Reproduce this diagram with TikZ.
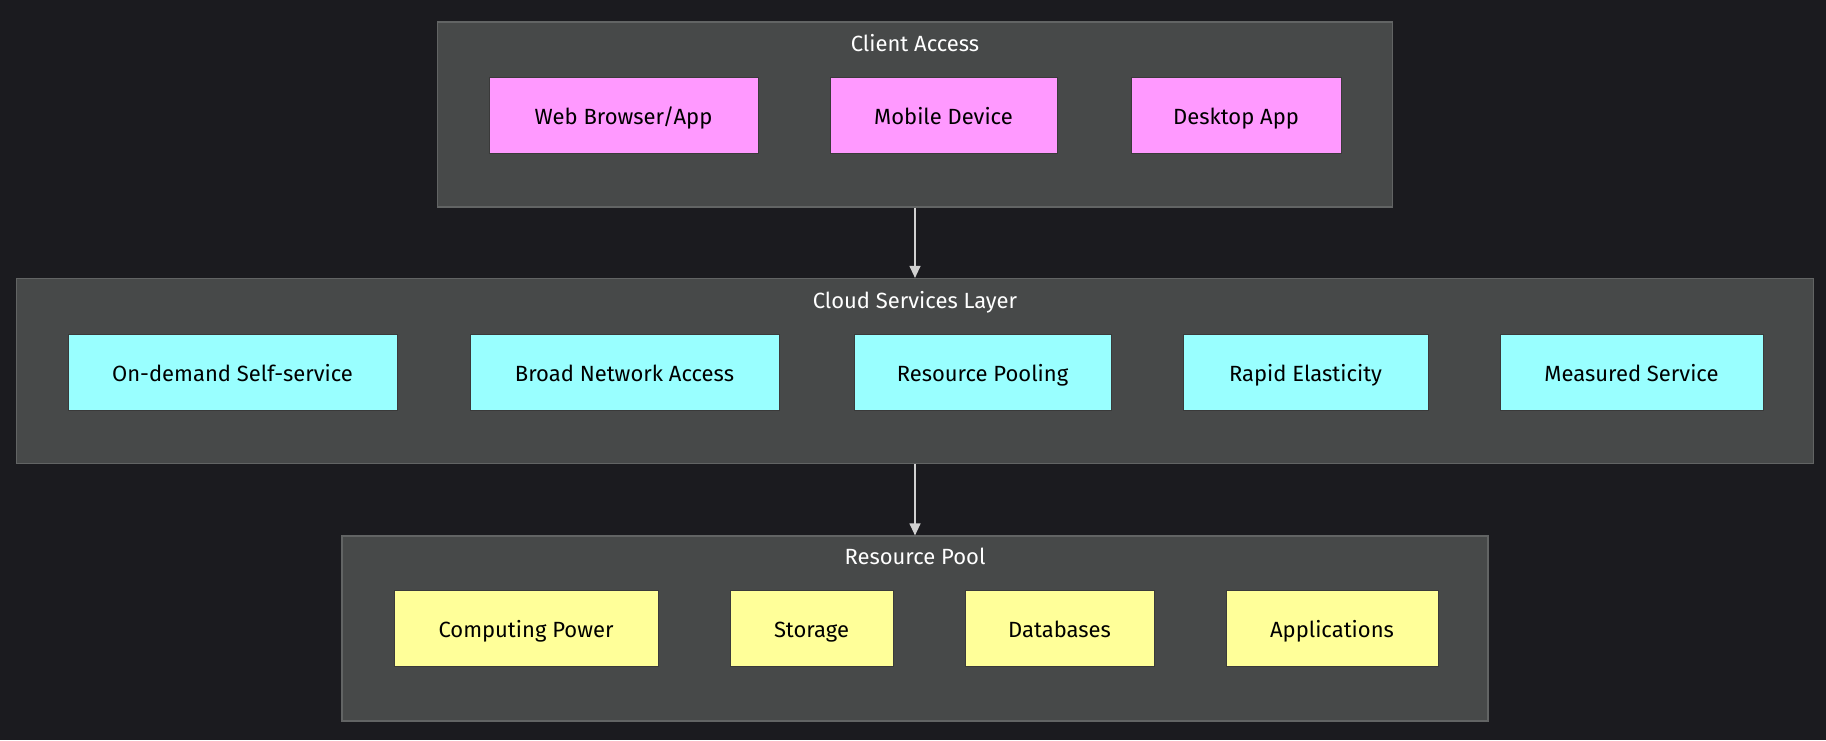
\documentclass[tikz,border=0pt]{standalone}
\usepackage{fontspec}
\setmainfont{Fira Sans}
\usetikzlibrary{arrows.meta}
\definecolor{bg}{HTML}{1B1B1F}
\definecolor{clusterfill}{HTML}{474949}
\definecolor{clusterline}{HTML}{626464}
\definecolor{pinkfill}{HTML}{FF99FF}
\definecolor{cyanfill}{HTML}{99FFFF}
\definecolor{yellowfill}{HTML}{FFFF99}
\definecolor{boxline}{HTML}{3A3A3A}
\definecolor{arrowgrey}{HTML}{D0D0D0}
\begin{document}
\begin{tikzpicture}[x=1pt,y=-1pt,
  cluster/.style={draw=clusterline, fill=clusterfill, line width=1.2pt, minimum height=185pt},
  title/.style={text=white, font=\fontsize{22}{26}\selectfont, text height=21pt, text depth=3pt},
  item/.style={draw=boxline, line width=0.8pt, minimum height=76pt, text=black, font=\fontsize{22}{26}\selectfont, text height=21pt, text depth=3pt},
  >={Triangle[width=11pt,length=12pt]}]
\fill[bg] (0,0) rectangle (1826,740);
\useasboundingbox (0,0) rectangle (1826,740);
% groups
\node[cluster, minimum width=955pt] (client) at (915,114.5) {};
\node[cluster, minimum width=1797pt] (cloud) at (915,371) {};
\node[cluster, minimum width=1146pt] (pool) at (915,628.5) {};
\node[title] (clienttitle) at (915,42) {Client Access};
\node[title] (cloudtitle) at (915,299) {Cloud Services Layer};
\node[title] (pooltitle) at (915,555) {Resource Pool};
% client access
\foreach \n / \x / \w / \t in {web/623.5/269/{Web Browser/App}, mobile/943.5/227/Mobile Device, desktop/1236/210/Desktop App}
{
	\node[item, fill=pinkfill, minimum width=\w pt] (\n) at (\x,115) {\t};
}
% cloud services
\foreach \n / \x / \w / \t in {selfservice/232.5/329/On-demand Self-service, network/624.5/309/Broad Network Access, pooling/982.5/257/Resource Pooling, elasticity/1305.5/245/Rapid Elasticity, measured/1631.5/263/Measured Service}
{
	\node[item, fill=cyanfill, minimum width=\w pt] (\n) at (\x,372) {\t};
}
% resource pool
\foreach \n / \x / \w / \t in {computing/526/264/Computing Power, storage/811.5/163/Storage, databases/1059.5/189/Databases, applications/1332/212/Applications}
{
	\node[item, fill=yellowfill, minimum width=\w pt] (\n) at (\x,628) {\t};
}
\draw[->, arrowgrey, line width=1.2pt] (client.south) -- (cloud.north);
\draw[->, arrowgrey, line width=1.2pt] (cloud.south) -- (pool.north);
\end{tikzpicture}
\end{document}
